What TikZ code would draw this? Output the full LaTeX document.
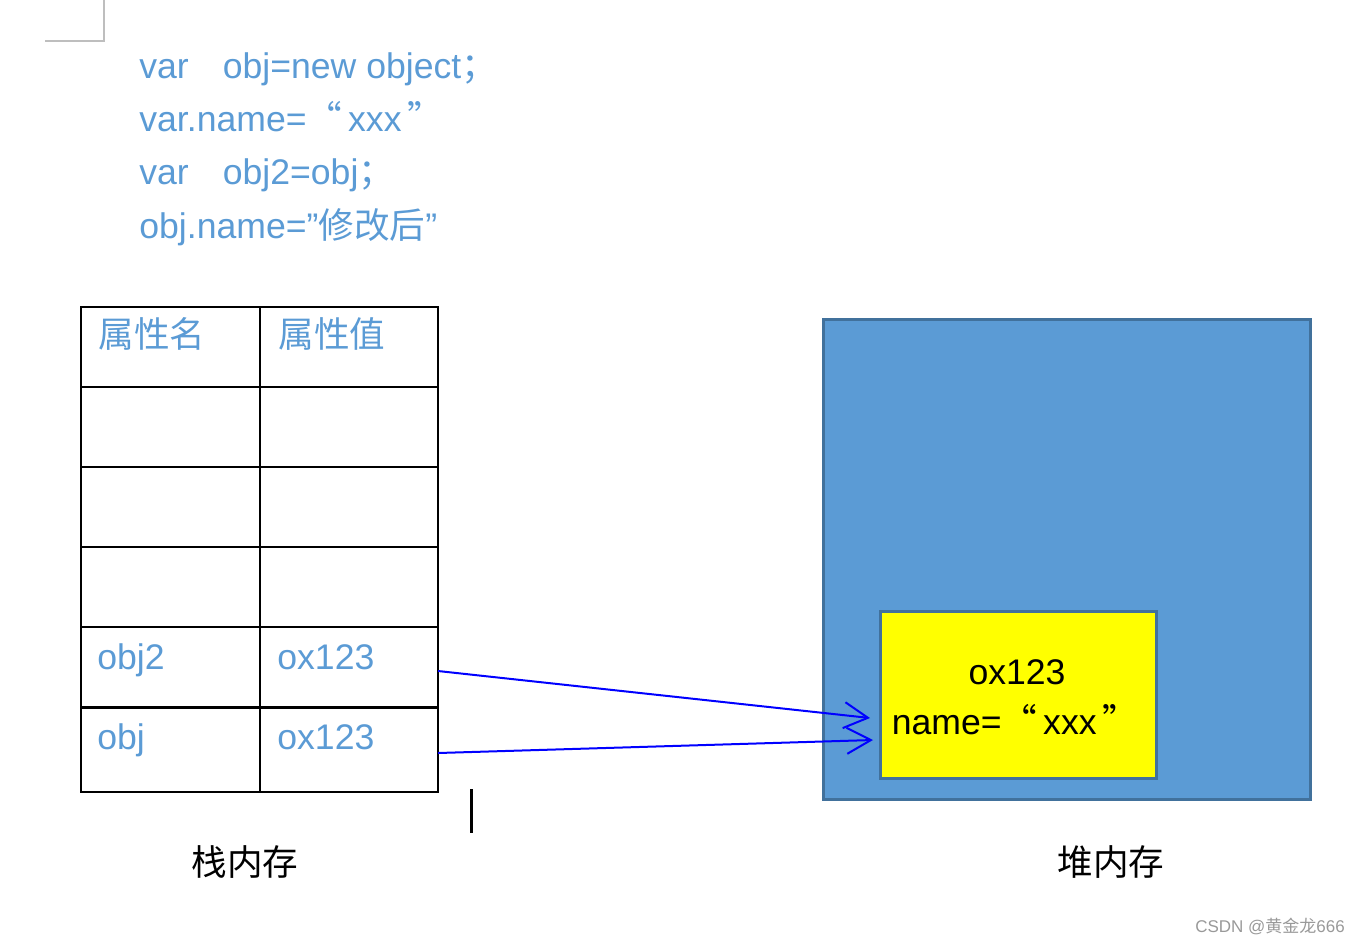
\documentclass[tikz,border=0pt]{standalone}
\usepackage{fontspec}
\setmainfont{Liberation Sans}
\newfontfamily\cjk{Noto Sans CJK SC}
\usetikzlibrary{arrows.meta}
\definecolor{codeBlue}{RGB}{91,155,213}
\definecolor{heapFill}{RGB}{91,155,213}
\definecolor{heapLine}{RGB}{65,113,156}
\definecolor{refBlue}{RGB}{0,0,255}
\definecolor{markGray}{RGB}{190,190,190}
\definecolor{objYellow}{RGB}{255,255,0}
\begin{document}
\begin{tikzpicture}[x=0.5pt, y=-0.5pt,
    big/.style={font=\fontsize{17.8}{21}\selectfont},
    code/.style={big, text=codeBlue, anchor=base west, inner sep=0pt},
    cell/.style={draw, line width=1pt, inner sep=0pt, outer sep=0pt, minimum height=40pt},
    celltext/.style={big, text=codeBlue, anchor=base west, inner sep=0pt},
    heapbox/.style={draw=heapLine, fill=heapFill, line width=1.5pt, inner sep=0pt, outer sep=0pt},
    objbox/.style={draw=heapLine, fill=objYellow, line width=1.5pt, inner sep=0pt, outer sep=0pt},
    ref/.style={draw=refBlue, line width=1pt, -{Straight Barb[length=12pt, width=13pt, line width=1pt]}}]
    \useasboundingbox (0,0) rectangle (1360,944);

    % corner mark
    \draw[markGray, line width=0.75pt] (104,0) -- (104,41) -- (45,41);

    % code lines
    \node[code] (code1) at (139,78) {var\hspace{17pt}obj=new object{\cjk ；}};
    \node[code] (code2) at (139,131.5) {var.name={\cjk “}\,xxx\,{\cjk ”}};
    \node[code] (code3) at (139,184.5) {var\hspace{17pt}obj2=obj{\cjk ；}};
    \node[code] (code4) at (139,238) {obj.name=”{\cjk 修改后}”};

    % stack table
    \foreach \r in {0,...,4} {
      \node[cell, minimum width=89.5pt] (k\r) at (170.5,{347+80*\r}) {};
      \node[cell, minimum width=89pt] (v\r) at (349,{347+80*\r}) {};
    }
    \node[cell, minimum width=89.5pt, minimum height=42pt] (k5) at (170.5,750) {};
    \node[cell, minimum width=89pt, minimum height=42pt] (v5) at (349,750) {};

    \node[celltext] (hname) at (98,347) {\cjk 属性名};
    \node[celltext] (hval) at (278,347) {\cjk 属性值};
    \node[celltext] (obj2name) at (97,669) {obj2};
    \node[celltext] (obj2val) at (277,669) {ox123};
    \node[celltext] (objname) at (97,749) {obj};
    \node[celltext] (objval) at (277,749) {ox123};

    % cursor
    \draw[line width=1.5pt] (471,789) -- (471,833);

    % heap
    \node[heapbox, minimum width=243.5pt, minimum height=240pt] (heap) at (1066.5,559) {};
    \node[objbox, minimum width=138pt, minimum height=83.5pt] (heapobj) at (1018,694.5) {};
    \node[big, anchor=base, inner sep=0pt] (addr) at (1017,684) {ox123};
    \node[big, anchor=base, inner sep=0pt] (prop) at (1015,734) {name={\cjk “}\,xxx\,{\cjk ”}};

    % references
    \path[ref] ([yshift=-2pt]v4.east) -- ([xshift=-5pt, yshift=-11.75pt]heapobj.west);
    \path[ref] ([yshift=-1.5pt]v5.east) -- ([xshift=-3.5pt, yshift=-22.75pt]heapobj.west);

    % captions
    \node[big, text=black] (stack label) at (245,862) {\cjk 栈内存};
    \node[big, text=black] (heap label) at (1111,862) {\cjk 堆内存};
    \node[text=gray!80, font=\fontsize{8.5}{10}\selectfont] (mark) at (1270,926) {CSDN @{\cjk 黄金龙}666};
\end{tikzpicture}
\end{document}
